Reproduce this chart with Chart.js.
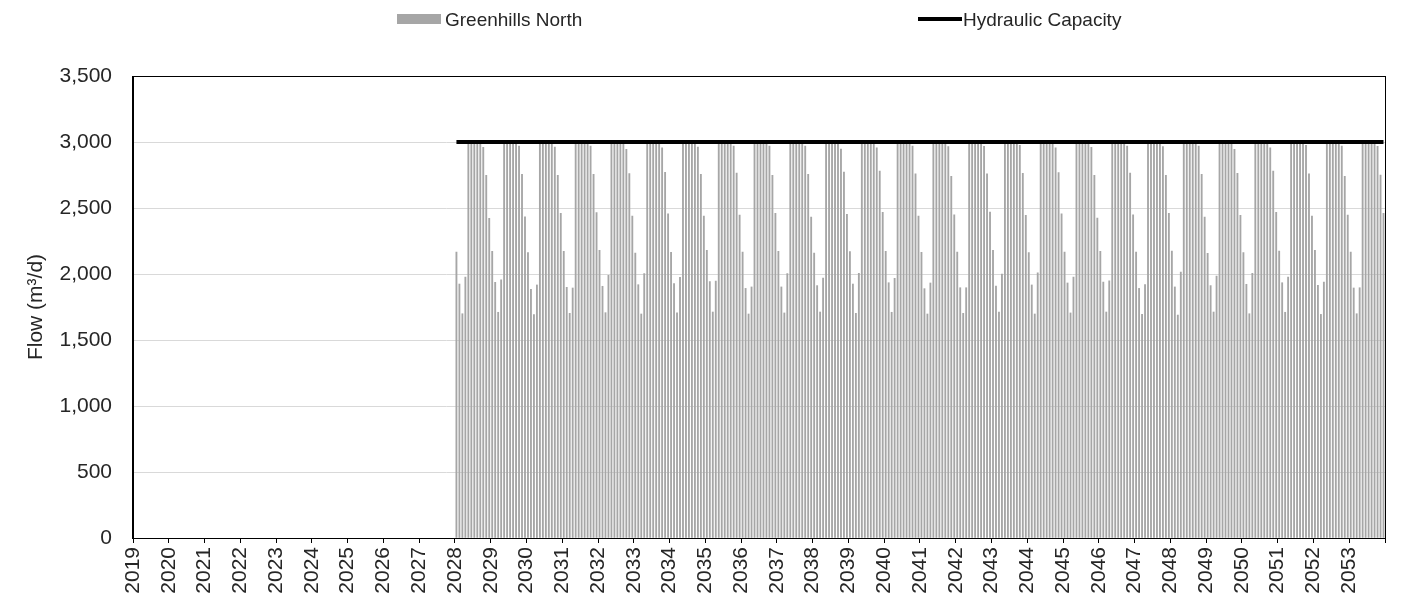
<!DOCTYPE html>
<html>
<head>
<meta charset="utf-8">
<script src="https://cdn.jsdelivr.net/npm/chart.js@4.4.1/dist/chart.umd.min.js"></script>
<style>
  html, body { margin: 0; padding: 0; background: #fff; }
  #wrap { position: relative; width: 1405px; height: 610px; }
  #legend { position: absolute; top: 0; left: 0; width: 1405px; height: 40px;
            font: 19px "Liberation Sans", Arial, sans-serif; color: #262626; }
  #legend .item { position: absolute; top: 9px; white-space: nowrap; line-height: 22px; }
  #legend .box { display: inline-block; width: 44px; height: 10px; background: #a6a6a6;
                 vertical-align: middle; margin-right: 4px; position: relative; top: -2px; }
  #legend .line { display: inline-block; width: 44px; height: 4px; background: #000;
                  vertical-align: middle; margin-right: 1px; position: relative; top: -2px; }
</style>
</head>
<body>
<div id="wrap">
  <canvas id="myChart"></canvas>
  <div id="legend">
    <span class="item" style="left:397px"><span class="box"></span>Greenhills North</span>
    <span class="item" style="left:918px"><span class="line"></span>Hydraulic Capacity</span>
  </div>
</div>
<script>
// year labels on the category axis (one tick per January)
var years = [];
for (var y = 2019; y <= 2053; y++) years.push(y);

var firstFlowYear = 2028;
var hydraulicCapacity = 3000;

// monthly flow (m3/d), one value per year 2028..2053
var jan = [2167,2172,2162,2172,2179,2159,2164,2179,2167,2172,2159,2169,2172,2164,2167,2179,2162,2167,2172,2167,2174,2157,2162,2174,2179,2167];
var feb = [1924,1937,1884,1899,1907,1919,1927,1942,1891,1902,1912,1924,1934,1889,1896,1909,1917,1932,1939,1891,1902,1912,1922,1934,1914,1894];
var mar = [1699,1710,1692,1702,1707,1697,1705,1712,1697,1705,1712,1702,1710,1697,1702,1712,1697,1705,1712,1694,1689,1712,1699,1710,1694,1699];
var apr = [1977,1955,1917,1894,1990,2003,1975,1947,1902,2003,1970,2005,1967,1932,1896,2000,2008,1977,1949,1919,2015,1985,2005,1977,1939,1896];
var may = [3000,3000,3000,3000,3000,3000,3000,3000,3000,3000,3000,3000,3000,3000,3000,3000,3000,3000,3000,3000,3000,3000,3000,3000,3000,3000];
var jun = [3000,3000,3000,3000,3000,3000,3000,3000,3000,3000,3000,3000,3000,3000,3000,3000,3000,3000,3000,3000,3000,3000,3000,3000,3000,3000];
var jul = [3000,3000,3000,3000,3000,3000,3000,3000,3000,3000,3000,3000,3000,3000,3000,3000,3000,3000,3000,3000,3000,3000,3000,3000,3000,3000];
var aug = [3000,3000,3000,3000,3000,3000,3000,3000,3000,3000,3000,3000,3000,3000,3000,3000,3000,3000,3000,3000,3000,3000,3000,3000,3000,3000];
var sep = [3000,3000,3000,3000,3000,3000,3000,3000,3000,3000,3000,3000,3000,3000,3000,3000,3000,3000,3000,3000,3000,3000,3000,3000,3000,3000];
var oct = [2960,2970,2962,2970,2944,2955,2962,2970,2970,2970,2947,2955,2970,2965,2967,2975,2955,2960,2970,2965,2970,2944,2955,2975,2970,2967];
var nov = [2747,2755,2747,2755,2760,2770,2755,2765,2747,2755,2773,2780,2758,2740,2758,2763,2768,2747,2765,2747,2755,2763,2780,2758,2740,2750];
var dec = [2422,2434,2460,2465,2439,2455,2439,2447,2460,2432,2452,2467,2439,2449,2470,2444,2455,2424,2449,2460,2432,2444,2467,2439,2447,2460];

var months = [jan, feb, mar, apr, may, jun, jul, aug, sep, oct, nov, dec];

// month slots on a linear axis: slot i is centred at i + 0.5
var flowPoints = [];
var capacityPoints = [];
years.forEach(function(yr, yi) {
  var k = yr - firstFlowYear;
  if (k < 0) return;
  months.forEach(function(arr, m) {
    var slot = yi * 12 + m + 0.5;
    flowPoints.push({x: slot, y: arr[k]});
    capacityPoints.push({x: slot, y: hydraulicCapacity});
  });
});

var font = "'Liberation Sans', Arial, sans-serif";
var textColor = '#262626';

var frame = {
  id: 'frame',
  afterDatasetsDraw: function(chart) {
    var a = chart.chartArea, ctx = chart.ctx;
    ctx.save();
    ctx.strokeStyle = '#000';
    ctx.lineWidth = 1;
    ctx.strokeRect(Math.round(a.left) - 0.5, Math.round(a.top) + 0.5,
                   Math.round(a.right - a.left) + 1, Math.round(a.bottom - a.top));
    ctx.restore();
  }
};

var config = {
  type: 'bar',
  data: {
    datasets: [
      {
        type: 'line',
        label: 'Hydraulic Capacity',
        data: capacityPoints,
        borderColor: '#000',
        backgroundColor: '#000',
        borderWidth: 4,
        pointRadius: 0,
        borderCapStyle: 'butt',
        order: 0
      },
      {
        label: 'Greenhills North',
        data: flowPoints,
        backgroundColor: '#a6a6a6',
        borderWidth: 0,
        barThickness: 1.2,
        order: 1
      }
    ]
  },
  options: {
    responsive: true,
    maintainAspectRatio: false,
    animation: false,
    layout: { padding: { top: 76, right: 20, left: 0, bottom: 0 } },
    plugins: {
      legend: { display: false },
      tooltip: { enabled: false }
    },
    scales: {
      x: {
        type: 'linear',
        offset: false,
        min: 0,
        max: 420,
        afterFit: function(s) { s.height = 72; s.paddingLeft = 0; s.paddingRight = 0; },
        grid: { offset: false, drawOnChartArea: false, drawTicks: true, tickLength: 5, tickColor: '#000' },
        border: { color: '#000', width: 1 },
        ticks: {
          stepSize: 12,
          autoSkip: false,
          minRotation: 90,
          maxRotation: 90,
          padding: 4,
          color: textColor,
          font: { family: font, size: 21 },
          callback: function(v) { return v < 420 ? String(years[v / 12]) : ''; }
        }
      },
      y: {
        min: 0,
        max: 3500,
        afterFit: function(s) { s.width = 133; },
        grid: { color: '#d9d9d9', lineWidth: 1, drawTicks: false },
        border: { color: '#000', width: 1 },
        title: {
          display: true,
          text: 'Flow (m\u00b3/d)',
          color: textColor,
          font: { family: font, size: 21 },
          padding: { top: 24, bottom: 0 }
        },
        ticks: {
          stepSize: 500,
          padding: 21,
          color: textColor,
          font: { family: font, size: 21 },
          callback: function(v) { return v.toLocaleString('en-US'); }
        }
      }
    }
  },
  plugins: [frame]
};

var myChart = new Chart(document.getElementById('myChart'), config);
</script>
</body>
</html>
